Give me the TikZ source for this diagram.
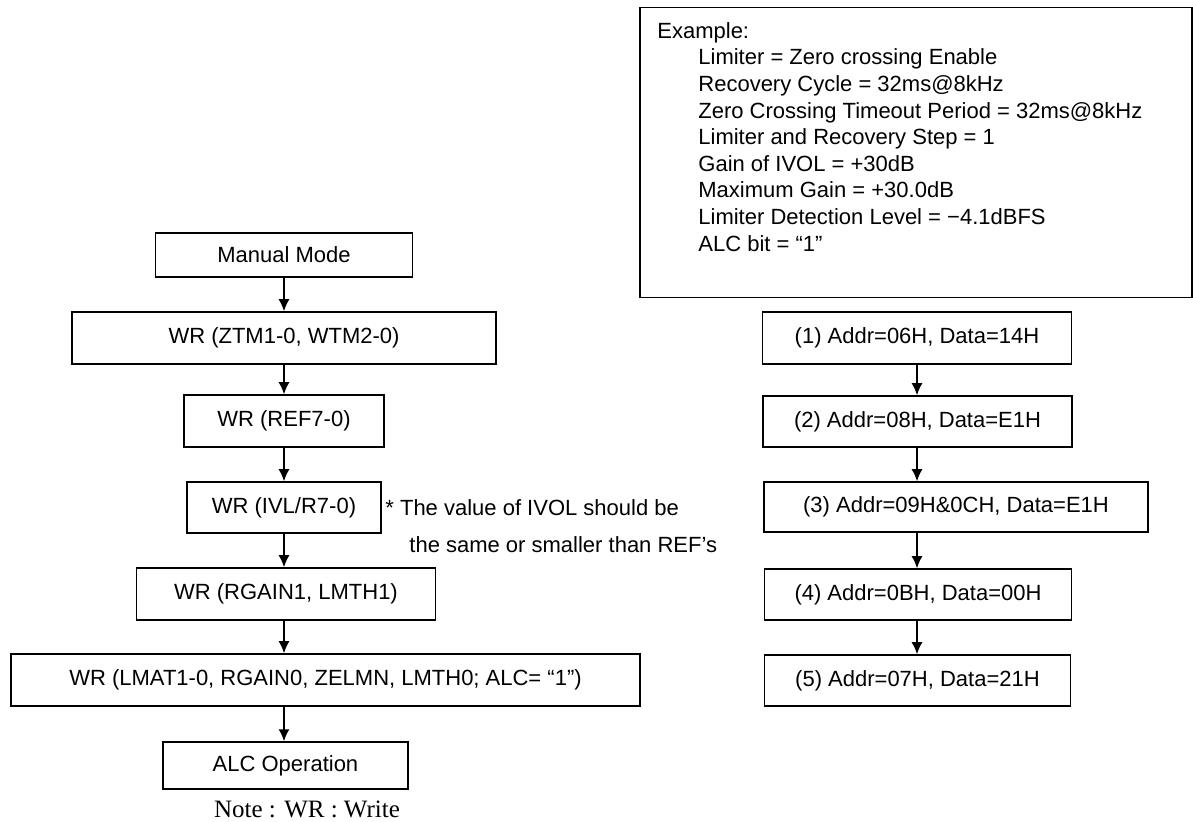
\documentclass[tikz,border=0pt]{standalone}
\usepackage{fontspec}
\setmainfont{Liberation Sans}
\newfontfamily\notefont{Liberation Serif}
\usetikzlibrary{arrows.meta}

\tikzset{
  flowbox/.style={draw, line width=0.75pt, inner sep=0pt, minimum height=26pt, font=\fontsize{11}{13}\selectfont},
  regbox/.style={draw, line width=0.75pt, inner sep=0pt, minimum height=26pt, font=\fontsize{11}{13}\selectfont},
  flowarrow/.style={->, line width=0.75pt, >={Latex[length=6pt,width=5.5pt]}}
}

\begin{document}
\begin{tikzpicture}[x=0.5pt, y=-0.5pt]
  \useasboundingbox (0,0) rectangle (1193,822);

  % left column: register write sequence
  \node[flowbox, minimum width=128.5pt, minimum height=22pt] (manual) at (284,255) {Manual Mode};
  \node[flowbox, minimum width=212pt] (ztm) at (284,338) {WR (ZTM1-0, WTM2-0)};
  \node[flowbox, minimum width=100pt] (ref) at (284,421) {WR (REF7-0)};
  \node[flowbox, minimum width=97pt, minimum height=25.5pt] (ivl) at (284,507.5) {WR (IVL/R7-0)};
  \node[flowbox, minimum width=149.5pt] (rgain) at (286,594) {WR (RGAIN1, LMTH1)};
  \node[flowbox, minimum width=314.5pt] (lmat) at (325.5,680) {WR (LMAT1-0, RGAIN0, ZELMN, LMTH0; ALC= “1”)};
  \node[flowbox, minimum width=122.5pt, minimum height=23.5pt] (alc) at (285.5,765.5) {ALC Operation};
  \node[font=\notefont\fontsize{12.5}{14}\selectfont, inner sep=0pt] (note) at (307,809) {Note : WR : Write};

  % remark beside IVL
  \node[anchor=west, inner sep=0pt, font=\fontsize{11}{13}\selectfont] (remark1) at (385,508) {* The value of IVOL should be};
  \node[anchor=west, inner sep=0pt, font=\fontsize{11}{13}\selectfont] (remark2) at (409,545) {the same or smaller than REF's};

  \draw[flowarrow] (manual) -- (manual |- ztm.north);
  \draw[flowarrow] (manual |- ztm.south) -- (manual |- ref.north);
  \draw[flowarrow] (ref) -- (ref |- ivl.north);
  \draw[flowarrow] (ivl) -- (ivl |- rgain.north);
  \draw[flowarrow] (ivl |- rgain.south) -- (ivl |- lmat.north);
  \draw[flowarrow] (ivl |- lmat.south) -- (ivl |- alc.north);

  % example box
  \node[draw, line width=0.75pt, anchor=north west, minimum width=276pt, minimum height=145pt, inner sep=0pt] (example) at (639,7) {};
  \node[anchor=north west, align=left, inner sep=0pt, font=\fontsize{11}{13.3}\selectfont] (extext) at (657,22) {Example:\\
    \hspace*{20.5pt}Limiter = Zero crossing Enable\\
    \hspace*{20.5pt}Recovery Cycle = 32ms@8kHz\\
    \hspace*{20.5pt}Zero Crossing Timeout Period = 32ms@8kHz\\
    \hspace*{20.5pt}Limiter and Recovery Step = 1\\
    \hspace*{20.5pt}Gain of IVOL = +30dB\\
    \hspace*{20.5pt}Maximum Gain = +30.0dB\\
    \hspace*{20.5pt}Limiter Detection Level = −4.1dBFS\\
    \hspace*{20.5pt}ALC bit = “1”};

  % right column: register values
  \node[regbox, minimum width=154.5pt] (addr1) at (917,338) {(1) Addr=06H, Data=14H};
  \node[regbox, minimum width=154.5pt, minimum height=25.5pt] (addr2) at (917.5,421.5) {(2) Addr=08H, Data=E1H};
  \node[regbox, minimum width=192pt, minimum height=25pt] (addr3) at (956,507) {(3) Addr=09H\&0CH, Data=E1H};
  \node[regbox, minimum width=153.5pt, minimum height=25.5pt] (addr4) at (918,594.5) {(4) Addr=0BH, Data=00H};
  \node[regbox, minimum width=153pt, minimum height=25.5pt] (addr5) at (917.5,680.5) {(5) Addr=07H, Data=21H};

  \draw[flowarrow] (addr1) -- (addr1 |- addr2.north);
  \draw[flowarrow] (addr1 |- addr2.south) -- (addr1 |- addr3.north);
  \draw[flowarrow] (addr1 |- addr3.south) -- (addr1 |- addr4.north);
  \draw[flowarrow] (addr1 |- addr4.south) -- (addr1 |- addr5.north);
\end{tikzpicture}
\end{document}
